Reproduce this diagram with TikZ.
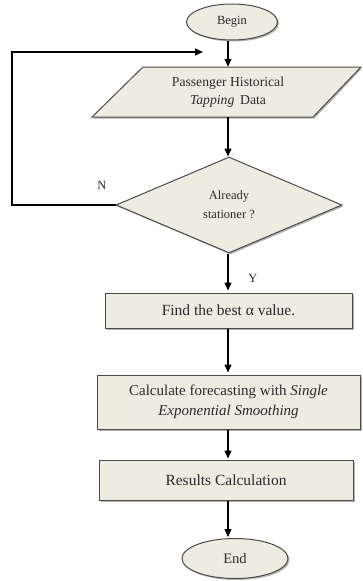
\documentclass[tikz,border=0pt]{standalone}
\usepackage{fontspec}
\setmainfont{Liberation Serif}
\usetikzlibrary{shapes.geometric,arrows.meta,shadows}
\definecolor{boxfill}{HTML}{EEECE1}
\definecolor{boxline}{HTML}{4A4A48}
\definecolor{txt}{HTML}{2A2A2A}
\begin{document}
\begin{tikzpicture}[x=1pt,y=-1pt,
  shade/.style={drop shadow={shadow xshift=1.5pt,shadow yshift=-1.5pt,fill=black!55,opacity=.55}},
  procbox/.style={draw=boxline,line width=1pt,fill=boxfill,shade,inner sep=0pt,align=center,text=txt,font=\fontsize{15.5}{18}\selectfont},
  termin/.style={ellipse,draw=boxline,line width=1pt,fill=boxfill,shade,inner sep=0pt,text=txt,font=\fontsize{12.5}{15}\selectfont},
  arr/.style={line width=1.3pt,-{Triangle[length=8pt,width=7pt]}},
  lbl/.style={font=\fontsize{12.5}{15}\selectfont,inner sep=0pt,text=txt}]
\useasboundingbox[fill=white] (0,0) rectangle (362,581);
\coordinate (xline) at (228,0);
% Begin
\node[termin,minimum width=91pt,minimum height=36pt] (begin) at (232,22) {Begin};
% data parallelogram
\fill[black!55,opacity=.55] (144.5,68.5) -- (362,68.5) -- (314.5,118.5) -- (93.5,118.5) -- cycle;
\draw[draw=boxline,line width=1pt,fill=boxfill] (143,67) -- (361,67) -- (313,117) -- (92,117) -- cycle;
\node[inner sep=0pt,minimum height=50pt,minimum width=170pt,align=center,text=txt,font=\fontsize{13.7}{18}\selectfont] (data) at (228,92) {Passenger Historical\\\textit{Tapping}\, Data};
% diamond
\node[diamond,draw=boxline,line width=1pt,fill=boxfill,shade,inner sep=0pt,minimum width=226pt,minimum height=96pt,align=center,text=txt,font=\fontsize{12.5}{19}\selectfont] (dec) at (229,205) {Already\\stationer ?};
% boxes
\node[procbox,minimum width=247pt,minimum height=35pt] (best) at (228.5,310.5) {Find the best α value.};
\node[procbox,minimum width=263pt,minimum height=54pt,font=\fontsize{15}{20}\selectfont] (calc) at (228.5,402) {Calculate forecasting with \textit{Single}\\\textit{Exponential Smoothing}};
\node[procbox,minimum width=254pt,minimum height=40pt] (res) at (226,480) {Results Calculation};
% End
\node[termin,minimum width=106pt,minimum height=40pt,font=\fontsize{14.5}{16}\selectfont] (endn) at (235,558.5) {End};
% arrows
\draw[arr] (begin.south -| xline) -- (data.north -| xline);
\draw[arr] (data.south -| xline) -- (dec.north -| xline);
\draw[arr] (dec.south -| xline) -- ([yshift=2pt]best.north -| xline);
\draw[arr] (best.south -| xline) -- ([yshift=2pt]calc.north -| xline);
\draw[arr] (calc.south -| xline) -- ([yshift=1pt]res.north -| xline);
\draw[arr] (res.south -| xline) -- ([yshift=1pt]endn.north -| xline);
% loop
\coordinate (loopend) at (203,52);
\draw[arr] (dec.west) -- (12,205) -- (12,52) -- (loopend);
\node[lbl] (nlbl) at (102,185) {N};
\node[lbl] (ylbl) at (253,278) {Y};
\end{tikzpicture}
\end{document}
